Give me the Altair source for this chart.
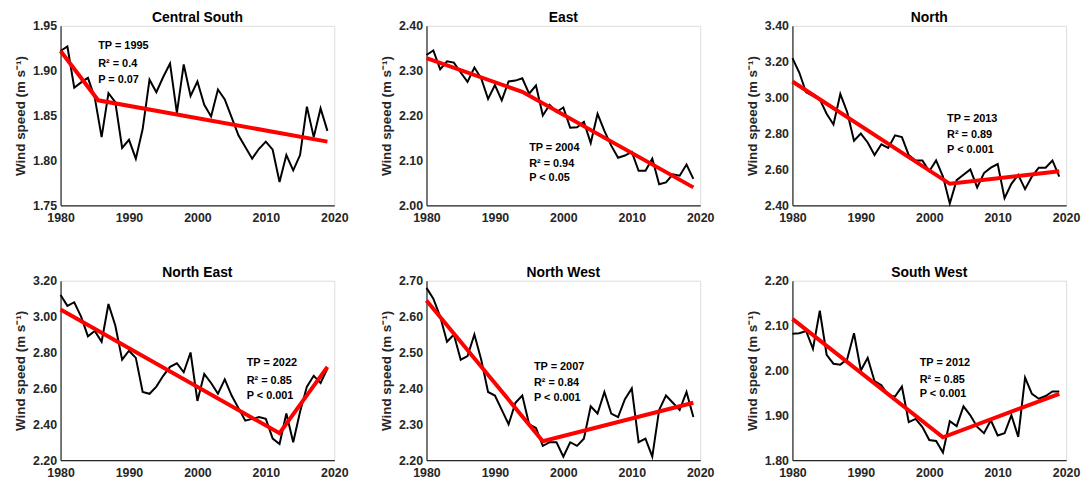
import altair as alt
import pandas as pd

years = list(range(1980, 2020))

names = ["Central South", "East", "North", "North East", "North West", "South West"]

cs = [1.922, 1.927, 1.881, 1.887, 1.892, 1.870, 1.826, 1.875, 1.865, 1.814,
      1.823, 1.802, 1.835, 1.890, 1.876, 1.893, 1.908, 1.853, 1.907, 1.872,
      1.888, 1.862, 1.849, 1.879, 1.868, 1.848, 1.828, 1.815, 1.802, 1.813,
      1.821, 1.812, 1.776, 1.806, 1.789, 1.806, 1.860, 1.826, 1.858, 1.833]
east = [2.335, 2.345, 2.303, 2.321, 2.318, 2.296, 2.275, 2.307, 2.283, 2.237,
        2.268, 2.234, 2.276, 2.278, 2.283, 2.249, 2.267, 2.200, 2.224, 2.208,
        2.218, 2.173, 2.174, 2.186, 2.139, 2.204, 2.166, 2.133, 2.106, 2.111,
        2.119, 2.077, 2.077, 2.104, 2.047, 2.051, 2.069, 2.066, 2.091, 2.059]
north = [3.22, 3.14, 3.03, 3.01, 2.99, 2.91, 2.85, 3.02, 2.92, 2.76,
         2.80, 2.75, 2.68, 2.74, 2.72, 2.79, 2.78, 2.68, 2.65, 2.65,
         2.59, 2.65, 2.56, 2.41, 2.54, 2.57, 2.60, 2.50, 2.58, 2.61,
         2.63, 2.44, 2.52, 2.57, 2.49, 2.56, 2.61, 2.61, 2.65, 2.56]
ne = [3.12, 3.06, 3.08, 3.00, 2.89, 2.92, 2.86, 3.07, 2.95, 2.76,
      2.81, 2.77, 2.58, 2.57, 2.61, 2.67, 2.72, 2.74, 2.69, 2.80,
      2.53, 2.68, 2.63, 2.57, 2.65, 2.56, 2.49, 2.42, 2.43, 2.44,
      2.43, 2.32, 2.29, 2.46, 2.30, 2.47, 2.61, 2.67, 2.63, 2.71]
nw = [2.68, 2.65, 2.60, 2.53, 2.55, 2.48, 2.49, 2.55, 2.48, 2.39,
      2.38, 2.34, 2.30, 2.36, 2.38, 2.30, 2.29, 2.24, 2.25, 2.25,
      2.21, 2.25, 2.24, 2.26, 2.35, 2.33, 2.39, 2.33, 2.32, 2.37,
      2.40, 2.25, 2.26, 2.21, 2.34, 2.38, 2.36, 2.34, 2.39, 2.32]
sw = [2.082, 2.083, 2.088, 2.048, 2.133, 2.035, 2.015, 2.013, 2.025, 2.083,
      2.000, 2.028, 1.976, 1.967, 1.945, 1.942, 1.964, 1.885, 1.892, 1.874,
      1.845, 1.843, 1.817, 1.887, 1.876, 1.920, 1.900, 1.874, 1.860, 1.889,
      1.855, 1.860, 1.900, 1.852, 1.984, 1.948, 1.937, 1.943, 1.953, 1.953]
series = [cs, east, north, ne, nw, sw]

# piecewise fitted trend lines (year, value)
fit_years = [[1980, 1985.5, 2019], [1980, 1994, 2019], [1980, 2003, 2019],
             [1980, 2012, 2019], [1980, 1997, 2019], [1980, 2002, 2019]]
fit_vals = [[1.922, 1.867, 1.821], [2.328, 2.253, 2.040], [3.09, 2.52, 2.59],
            [3.04, 2.35, 2.72], [2.645, 2.253, 2.36], [2.115, 1.851, 1.948]]

y_domains = [[1.75, 1.95], [2.00, 2.40], [2.40, 3.40], [2.20, 3.20], [2.20, 2.70], [1.80, 2.20]]
y_ticks = [[1.75, 1.80, 1.85, 1.90, 1.95],
           [2.00, 2.10, 2.20, 2.30, 2.40],
           [2.40, 2.60, 2.80, 3.00, 3.20, 3.40],
           [2.20, 2.40, 2.60, 2.80, 3.00, 3.20],
           [2.20, 2.30, 2.40, 2.50, 2.60, 2.70],
           [1.80, 1.90, 2.00, 2.10, 2.20]]
x_ticks = [1980, 1990, 2000, 2010, 2020]

ann_tp = ["TP = 1995", "TP = 2004", "TP = 2013", "TP = 2022", "TP = 2007", "TP = 2012"]
ann_r2 = ["R\u00b2 = 0.4", "R\u00b2 = 0.94", "R\u00b2 = 0.89", "R\u00b2 = 0.85", "R\u00b2 = 0.84", "R\u00b2 = 0.85"]
ann_p = ["P = 0.07", "P < 0.05", "P < 0.001", "P < 0.001", "P < 0.001", "P < 0.001"]
ann_x = [1985.5, 1995.0, 2002.6, 2007.2, 1995.7, 1998.6]
ann_y = [[1.927, 1.907, 1.890], [2.128, 2.092, 2.060], [2.88, 2.79, 2.71],
         [2.739, 2.643, 2.56], [2.46, 2.414, 2.372], [2.017, 1.978, 1.947]]

FONT = "Liberation Sans"
W, H = 276, 181


def panel(i):
    df = pd.DataFrame({"year": years, "v": series[i]})
    dfit = pd.DataFrame({"year": fit_years[i], "v": fit_vals[i]})
    dann = pd.DataFrame({"year": [ann_x[i]] * 3, "v": ann_y[i],
                         "t": [ann_tp[i], ann_r2[i], ann_p[i]]})
    xs = alt.Scale(domain=[1980, 2020], nice=False, zero=False)
    ys = alt.Scale(domain=y_domains[i], nice=False, zero=False)
    xax = alt.Axis(values=x_ticks, format="d", title=None, grid=False, ticks=False,
                   domain=True, domainColor="#262626", domainWidth=1.2,
                   labelFont=FONT, labelFontSize=12.5, labelFontWeight="bold",
                   labelColor="#262626", labelPadding=6, labelFlush=False,
                   labelOverlap=False, labelBound=False)
    yax = alt.Axis(values=y_ticks[i], format=".2f", title="Wind speed (m s\u207b\u00b9)",
                   grid=False, ticks=False, domain=True, domainColor="#262626",
                   domainWidth=1.2, labelFont=FONT, labelFontSize=12.5,
                   labelFontWeight="bold", labelColor="#262626", labelPadding=4,
                   labelOverlap=False, labelBound=False,
                   titleFont=FONT, titleFontSize=13.5, titleFontWeight="bold",
                   titleColor="#262626", titlePadding=5)
    ex = alt.X("year:Q", scale=xs, axis=xax)
    ey = alt.Y("v:Q", scale=ys, axis=yax)
    line = alt.Chart(df).mark_line(color="black", strokeWidth=2).encode(x=ex, y=ey)
    fit = alt.Chart(dfit).mark_line(color="#ff0000", strokeWidth=4).encode(x=ex, y=ey)
    txt = alt.Chart(dann).mark_text(align="left", baseline="middle", font=FONT,
                                    fontSize=11, fontWeight="bold", color="black").encode(
        x=ex, y=ey, text="t:N")
    return alt.layer(line, fit, txt).properties(
        width=W, height=H,
        title=alt.TitleParams(names[i], font=FONT, fontSize=14, fontWeight="bold",
                              color="black", offset=-5, frame="group"))


row1 = alt.hconcat(panel(0), panel(1), panel(2), spacing=30)
row2 = alt.hconcat(panel(3), panel(4), panel(5), spacing=30)
chart = alt.vconcat(row1, row2, spacing=41).properties(
    padding={"left": 5, "top": 0, "right": 0, "bottom": 0}
).configure_view(stroke="#a6a6a6", strokeWidth=1).configure(background="white")

chart.save("out.html", embed_options={"renderer": "svg", "actions": False})
